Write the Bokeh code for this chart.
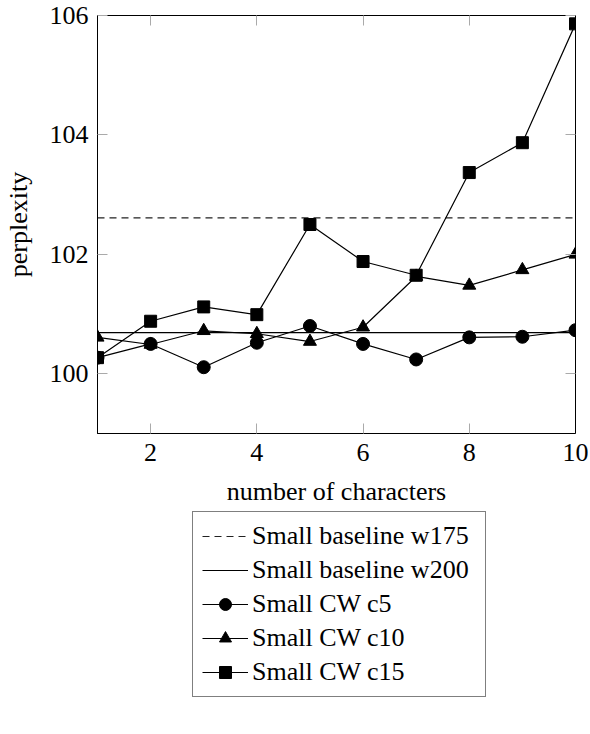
from bokeh.embed import file_html
from bokeh.resources import INLINE
from bokeh.layouts import column
from bokeh.models import Range1d, FixedTicker, LinearAxis
from bokeh.plotting import figure

# perplexity vs number of characters

chars = [1, 2, 3, 4, 5, 6, 7, 8, 9, 10]
baseline_w175 = 102.61
baseline_w200 = 100.69
cw_c5 = [100.27, 100.50, 100.11, 100.52, 100.80, 100.50, 100.24, 100.61, 100.62, 100.73]
cw_c10 = [100.61, 100.49, 100.72, 100.67, 100.54, 100.78, 101.63, 101.48, 101.74, 102.00]
cw_c15 = [100.27, 100.88, 101.12, 100.99, 102.50, 101.88, 101.65, 103.37, 103.87, 105.86]
x_ticks = [2, 4, 6, 8, 10]
y_ticks = [100, 102, 104, 106]

FONT = "Liberation Serif"


def draw_series(fig):
    fig.line(chars, [baseline_w175] * len(chars), color="#222222", line_width=1.2,
             line_dash="7 5", legend_label="Small baseline w175")
    fig.line(chars, [baseline_w200] * len(chars), color="black", line_width=1.2,
             legend_label="Small baseline w200")
    fig.line(chars, cw_c5, color="black", line_width=1.2, legend_label="Small CW c5")
    fig.scatter(chars, cw_c5, marker="circle", size=13, color="black", legend_label="Small CW c5")
    fig.line(chars, cw_c10, color="black", line_width=1.2, legend_label="Small CW c10")
    fig.scatter(chars, cw_c10, marker="triangle", size=13, color="black", legend_label="Small CW c10")
    fig.line(chars, cw_c15, color="black", line_width=1.2, legend_label="Small CW c15")
    fig.scatter(chars, cw_c15, marker="square", size=12, color="black", legend_label="Small CW c15")


p = figure(width=588, height=509, output_backend="svg", toolbar_location=None,
           x_range=Range1d(1, 10), y_range=Range1d(99, 106),
           min_border_left=96, min_border_top=15, min_border_right=13, min_border_bottom=76)
draw_series(p)
p.legend.visible = False

p.xgrid.grid_line_color = None
p.ygrid.grid_line_color = None
p.outline_line_color = "black"
p.outline_line_width = 1

p.xaxis.ticker = FixedTicker(ticks=x_ticks)
p.yaxis.ticker = FixedTicker(ticks=y_ticks)
p.xaxis.axis_label = "number of characters"
p.yaxis.axis_label = "perplexity"

for ax in [p.xaxis[0], p.yaxis[0]]:
    ax.axis_line_color = "black"
    ax.major_tick_in = 10
    ax.major_tick_out = 0
    ax.major_tick_line_color = "#aaaaaa"
    ax.minor_tick_line_color = None
    ax.major_label_text_font = FONT
    ax.major_label_text_font_size = "26px"
    ax.major_label_text_color = "black"
    ax.axis_label_text_font = FONT
    ax.axis_label_text_font_size = "26px"
    ax.axis_label_text_font_style = "normal"
    ax.axis_label_text_color = "black"
p.xaxis.major_label_standoff = 10
p.xaxis.axis_label_standoff = 13
p.yaxis.major_label_standoff = 9
p.yaxis.axis_label_standoff = 14

# mirrored ticks on the top and right sides, no labels
right = LinearAxis(ticker=FixedTicker(ticks=y_ticks), major_label_overrides={t: "" for t in y_ticks})
top = LinearAxis(ticker=FixedTicker(ticks=x_ticks), major_label_overrides={t: "" for t in x_ticks})
for ax in [right, top]:
    ax.axis_line_color = "black"
    ax.major_tick_in = 10
    ax.major_tick_out = 0
    ax.major_tick_line_color = "#aaaaaa"
    ax.minor_tick_line_color = None
    ax.major_label_standoff = 0
p.add_layout(right, "right")
p.add_layout(top, "above")

# legend lives in its own panel under the chart (series drawn outside its ranges)
lg = figure(width=588, height=200, output_backend="svg", toolbar_location=None,
            x_range=Range1d(50, 60), y_range=Range1d(0, 1),
            min_border=0, outline_line_color=None)
draw_series(lg)
lg.axis.visible = False
lg.grid.visible = False

leg = lg.legend[0]
leg.location = (95, 12)
leg.label_text_font = FONT
leg.label_text_font_size = "26px"
leg.label_text_color = "black"
leg.border_line_color = "black"
leg.border_line_width = 1
leg.glyph_width = 46
leg.glyph_height = 30
leg.label_height = 30
leg.label_width = 224
leg.label_standoff = 4
leg.spacing = 4
leg.padding = 9
leg.margin = 0

p = column(p, lg, spacing=0)

open("out.html", "w").write(file_html(p, INLINE))
